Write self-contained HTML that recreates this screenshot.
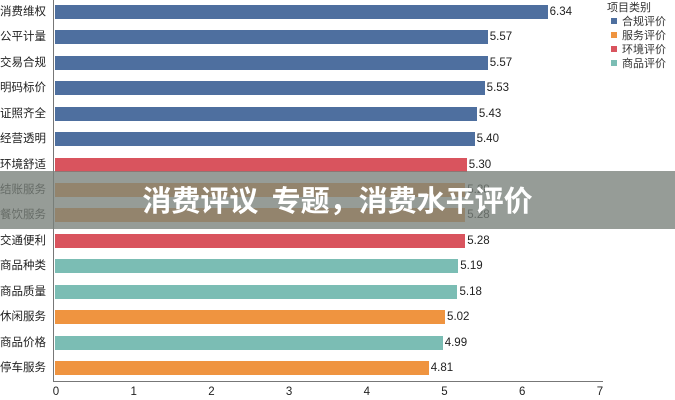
<!DOCTYPE html>
<html><head><meta charset="utf-8"><style>
body{margin:0;width:675px;height:400px;background:#fff;overflow:hidden;position:relative;font-family:"Liberation Sans","Noto Sans CJK SC",sans-serif;}
.l{position:absolute;left:0;width:52px;font-size:11.5px;color:#222;text-align:left;line-height:14px;white-space:nowrap;}
.b{position:absolute;left:55px;height:14px;}
.v{position:absolute;font-size:11.5px;color:#222;line-height:14px;}
.t{position:absolute;top:386px;font-size:11.5px;color:#222;width:20px;text-align:center;}
.lg{position:absolute;left:611px;font-size:11px;color:#333;line-height:13px;}
.sq{display:inline-block;width:6px;height:6px;margin-right:5px;vertical-align:1px;}
</style></head><body>
<div style="position:absolute;left:53px;top:0;width:1px;height:382px;background:#777"></div>
<div style="position:absolute;left:53px;top:381px;width:550px;height:1px;background:#777"></div>
<div id="c"></div>
<div class="lg" style="top:2px;left:607px">项目类别</div>
<div class="lg" style="top:16px"><span class="sq" style="background:#4e6f9f"></span>合规评价</div>
<div class="lg" style="top:30px"><span class="sq" style="background:#ef9440"></span>服务评价</div>
<div class="lg" style="top:44px"><span class="sq" style="background:#d9545e"></span>环境评价</div>
<div class="lg" style="top:58px"><span class="sq" style="background:#7bbdb4"></span>商品评价</div>
<div style="position:absolute;left:0;top:171px;width:675px;height:58px;background:rgba(120,128,122,0.78);"></div>
<div style="position:absolute;left:0;top:171px;width:675px;height:58px;line-height:56px;text-align:center;color:#fff;font-size:29px;font-weight:bold;font-family:'Noto Sans CJK SC',sans-serif;white-space:nowrap;">消费评议&nbsp;&nbsp;专题，消费水平评价</div>
<script>
var d=[["消费维权",6.34,"#4e6f9f"],["公平计量",5.57,"#4e6f9f"],["交易合规",5.57,"#4e6f9f"],["明码标价",5.53,"#4e6f9f"],["证照齐全",5.43,"#4e6f9f"],["经营透明",5.40,"#4e6f9f"],["环境舒适",5.30,"#d9545e"],["结账服务",5.28,"#ef9440"],["餐饮服务",5.28,"#ef9440"],["交通便利",5.28,"#d9545e"],["商品种类",5.19,"#7bbdb4"],["商品质量",5.18,"#7bbdb4"],["休闲服务",5.02,"#ef9440"],["商品价格",4.99,"#7bbdb4"],["停车服务",4.81,"#ef9440"]];
var h="";
d.forEach(function(r,i){var y=12+i*25.43-7;var w=r[1]*77.7;
h+='<div class="l" style="top:'+y+'px">'+r[0]+'</div><div class="b" style="top:'+y+'px;width:'+w+'px;background:'+r[2]+'"></div><div class="v" style="top:'+y+'px;left:'+(57+w)+'px">'+r[1].toFixed(2)+'</div>';});
for(var k=0;k<=7;k++)h+='<div class="t" style="left:'+(46+k*77.7)+'px">'+k+'</div>';
document.getElementById("c").innerHTML=h;
</script>
</body></html>
